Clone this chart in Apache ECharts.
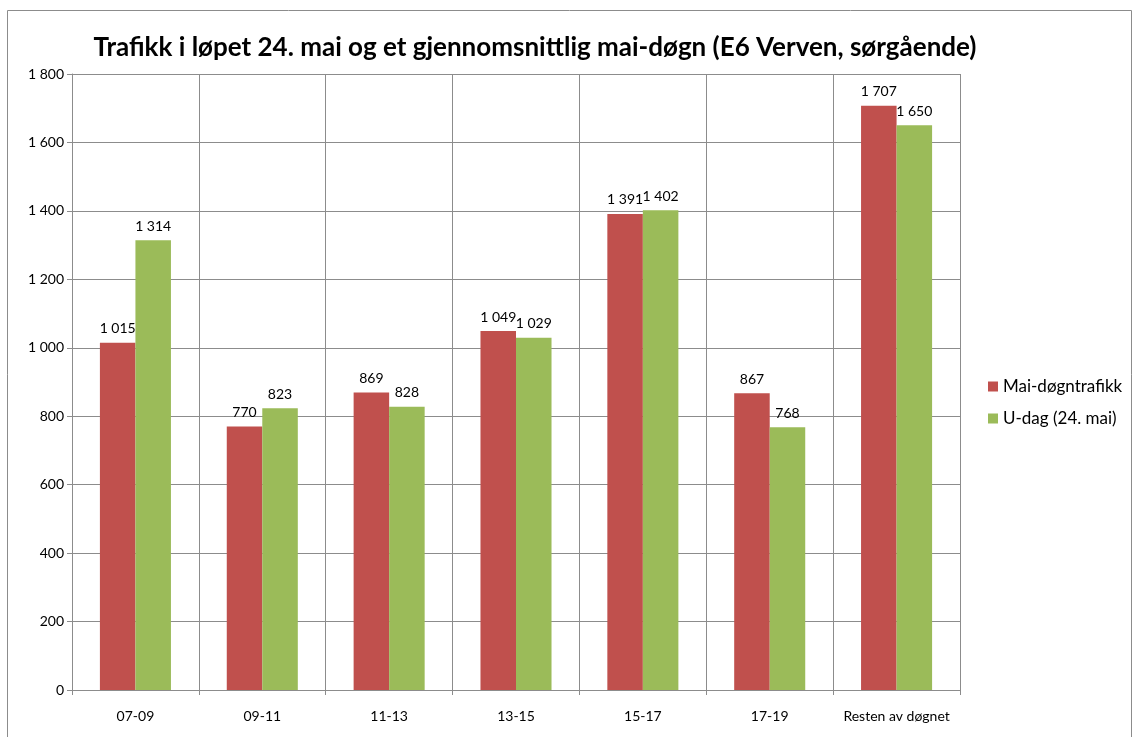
<!DOCTYPE html>
<html><head><meta charset="utf-8">
<script src="https://cdn.jsdelivr.net/npm/echarts@6/dist/echarts.min.js"></script>
<style>html,body{margin:0;padding:0;background:#fff}#c{width:1135px;height:737px}</style>
</head><body><div id="c"></div>
<script>
const categories = ['07-09','09-11','11-13','13-15','15-17','17-19','Resten av døgnet'];
const maiDogn = [1015, 770, 869, 1049, 1391, 867, 1707];
const uDag = [1314, 823, 828, 1029, 1402, 768, 1650];
const seriesNames = ['Mai-døgntrafikk','U-dag (24. mai)'];
const titleText = 'Trafikk i løpet 24. mai og et gjennomsnittlig mai-døgn (E6 Verven, sørgående)';

function fmt(v){ const s=String(v); return s.length>3 ? s.slice(0,s.length-3)+' '+s.slice(-3) : s; }
const font = 'Lato, "Open Sans", sans-serif';
const chart = echarts.init(document.getElementById('c'));
const lbl = {show:true, position:'top', distance:7, color:'#000', fontSize:14, fontFamily:font, formatter:p=>fmt(p.value)};
chart.setOption({
  animation:false,
  textStyle:{fontFamily:font},
  graphic:[{type:'rect', shape:{x:7.5,y:10.5,width:1124,height:740}, style:{fill:'none', stroke:'#8c8c8c', lineWidth:1}, silent:true}],
  title:{text:titleText, left:530, textAlign:'center', top:30, textStyle:{fontFamily:font, fontWeight:'bold', fontSize:26, color:'#000'}},
  legend:{orient:'vertical', left:983, top:373, itemWidth:10, itemHeight:10, itemGap:15, icon:'rect',
    textStyle:{fontSize:17, color:'#000', fontFamily:font}, data:seriesNames},
  grid:{left:72, right:175, top:74, bottom:47, containLabel:false},
  xAxis:{type:'category', data:categories, boundaryGap:true,
    axisLine:{lineStyle:{color:'#8c8c8c'}},
    axisTick:{show:true, length:5, interval:0, alignWithLabel:false, lineStyle:{color:'#8c8c8c'}},
    splitLine:{show:true, interval:0, lineStyle:{color:'#8c8c8c'}},
    axisLabel:{color:'#000', fontSize:14, margin:19, interval:0, fontFamily:font}},
  yAxis:{type:'value', min:0, max:1800, interval:200,
    axisLine:{show:true, lineStyle:{color:'#8c8c8c'}},
    axisTick:{show:true, length:5, lineStyle:{color:'#8c8c8c'}},
    splitLine:{show:true, lineStyle:{color:'#8c8c8c'}},
    axisLabel:{color:'#000', fontSize:14, margin:8, fontFamily:font, formatter:v=>fmt(v)}},
  series:[
    {name:seriesNames[0], type:'bar', data:maiDogn, itemStyle:{color:'#C0504D'}, barGap:'0%', barCategoryGap:'44%', label:lbl},
    {name:seriesNames[1], type:'bar', data:uDag, itemStyle:{color:'#9BBB59'}, barGap:'0%', barCategoryGap:'44%', label:lbl}
  ]
});
</script></body></html>
